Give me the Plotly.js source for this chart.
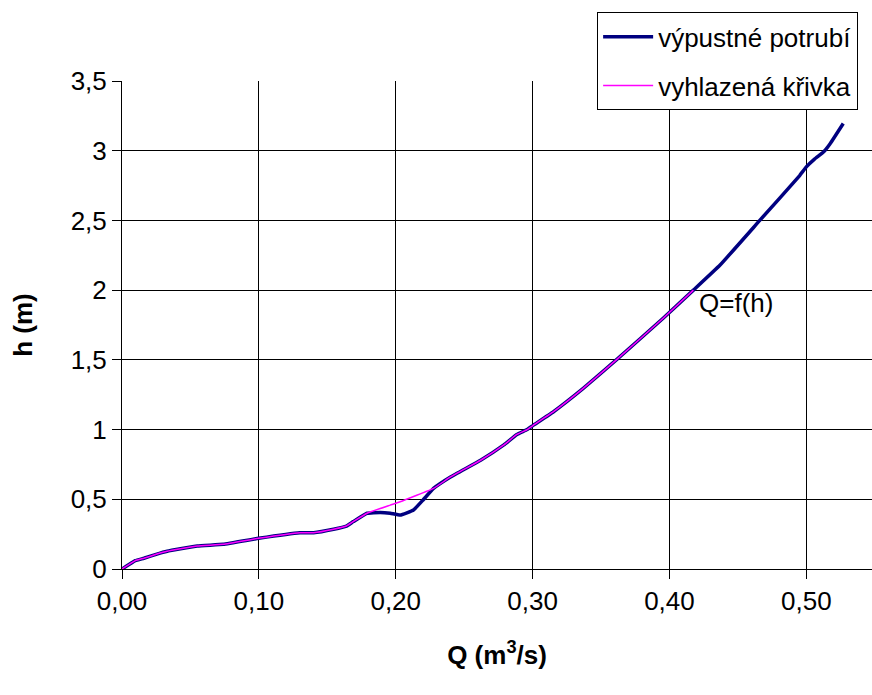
<!DOCTYPE html>
<html>
<head>
<meta charset="utf-8">
<script src="https://cdn.plot.ly/plotly-3.0.1.min.js"></script>
<style>html,body{margin:0;padding:0;background:#fff;}#chart{width:872px;height:695px;}</style>
</head>
<body>
<div id="chart"></div>
<script>
// výpustné potrubí (measured)
const qPipe = [0, 0.0097, 0.016, 0.0255, 0.033, 0.055, 0.074, 0.0998, 0.130, 0.140, 0.1546, 0.164, 0.169, 0.179, 0.1887, 0.196, 0.2033, 0.213, 0.220, 0.2276, 0.240, 0.262, 0.279, 0.2885, 0.296, 0.3007, 0.3153, 0.337, 0.3616, 0.3956, 0.4175, 0.437, 0.466, 0.495, 0.500, 0.506, 0.5125, 0.5174, 0.527];
const hPipe = [0, 0.06, 0.077, 0.107, 0.127, 0.165, 0.177, 0.22, 0.26, 0.26, 0.285, 0.308, 0.34, 0.40, 0.406, 0.40, 0.387, 0.423, 0.495, 0.578, 0.66, 0.78, 0.89, 0.965, 1.0, 1.032, 1.128, 1.295, 1.503, 1.80, 2.0, 2.18, 2.50, 2.82, 2.884, 2.94, 2.99, 3.05, 3.195];
// vyhlazená křivka (smoothed)
const qSmooth = [0, 0.0097, 0.016, 0.0255, 0.033, 0.055, 0.074, 0.0998, 0.130, 0.140, 0.1546, 0.164, 0.169, 0.179, 0.196, 0.2033, 0.2276, 0.240, 0.262, 0.279, 0.2885, 0.296, 0.3007, 0.3153, 0.337, 0.3616, 0.3956, 0.4175];
const hSmooth = [0, 0.06, 0.077, 0.107, 0.127, 0.165, 0.177, 0.22, 0.26, 0.26, 0.285, 0.308, 0.34, 0.40, 0.458, 0.482, 0.578, 0.66, 0.78, 0.89, 0.965, 1.0, 1.032, 1.128, 1.295, 1.503, 1.80, 2.0];
const xTicks = [0, 0.1, 0.2, 0.3, 0.4, 0.5];
const yTicks = [0, 0.5, 1, 1.5, 2, 2.5, 3, 3.5];
const seriesNames = ['výpustné potrubí', 'vyhlazená křivka'];
const curveLabel = 'Q=f(h)';

const FONT = 'Liberation Sans, Arial, sans-serif';
const FS = 26;

const traces = [
  {x: qPipe, y: hPipe, name: seriesNames[0], type: 'scatter', mode: 'lines',
   line: {color: '#000080', width: 3.5, shape: 'spline', smoothing: 0.3}, legendgroup: 'a'},
  {x: qSmooth, y: hSmooth, name: seriesNames[1], type: 'scatter', mode: 'lines',
   line: {color: '#FF00FF', width: 1.5, shape: 'spline', smoothing: 0.3}, legendgroup: 'b'}
];

const layout = {
  width: 872, height: 695,
  margin: {l: 122, r: 0, t: 81, b: 126, autoexpand: false},
  paper_bgcolor: '#fff', plot_bgcolor: '#fff',
  font: {family: FONT, size: FS, color: '#000'},
  separators: ', ',
  showlegend: true,
  legend: {x: 0.6335, y: 1.1407, xanchor: 'left', yanchor: 'top',
           bordercolor: '#000', borderwidth: 1, bgcolor: '#fff',
           font: {family: FONT, size: FS}, tracegroupgap: 12, itemwidth: 50},
  xaxis: {range: [0, 0.548], tickvals: xTicks, tickformat: '.2f',
          showgrid: true, gridcolor: '#000', gridwidth: 1,
          showline: true, linecolor: '#000', linewidth: 1,
          ticks: 'outside', ticklen: 9, tickcolor: '#000', zeroline: false,
          tickfont: {size: FS},
          title: {text: '<b>Q (m<sup>3</sup>/s)</b>', font: {size: FS}, standoff: 30}},
  yaxis: {range: [0, 3.5], tickvals: yTicks,
          showgrid: true, gridcolor: '#000', gridwidth: 1,
          showline: true, linecolor: '#000', linewidth: 1,
          ticks: 'outside', ticklen: 9, tickcolor: '#000', zeroline: false,
          tickfont: {size: FS},
          title: {text: '<b>h (m)</b>', font: {size: FS}, standoff: 30}},
  annotations: [{x: 0.4202, y: 1.907, xref: 'x', yref: 'y', text: curveLabel,
                 showarrow: false, xanchor: 'left', yanchor: 'middle',
                 font: {family: FONT, size: FS}}]
};

Plotly.newPlot('chart', traces, layout, {displayModeBar: false, staticPlot: true});
</script>
</body>
</html>
